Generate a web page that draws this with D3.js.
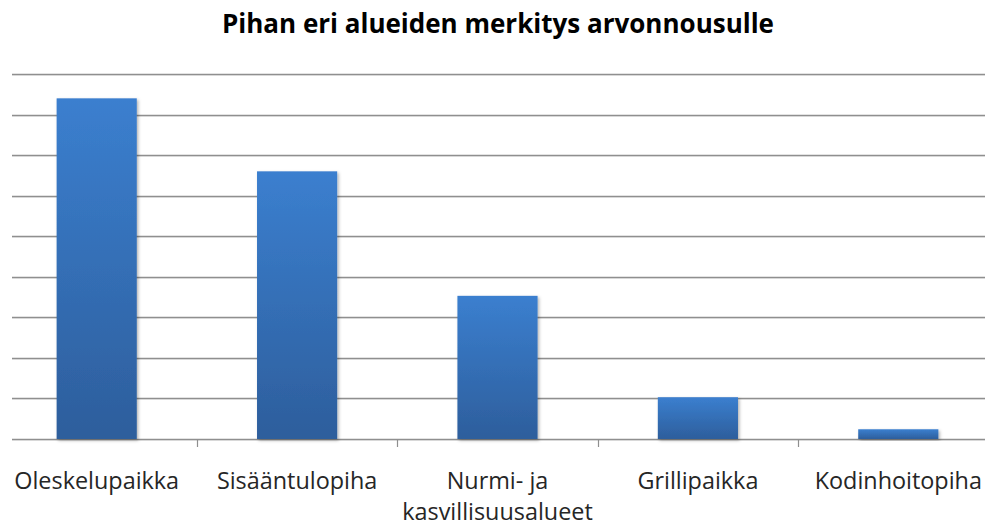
<!DOCTYPE html>
<html><head><meta charset="utf-8">
<script src="https://cdn.jsdelivr.net/npm/d3@7"></script>
<style>body{margin:0;background:#fff}svg{display:block}</style>
</head><body>
<svg id="c" width="992" height="524"></svg>
<script>
const title = "Pihan eri alueiden merkitys arvonnousulle";
const categories = ["Oleskelupaikka", "Sisääntulopiha", "Nurmi- ja kasvillisuusalueet", "Grillipaikka", "Kodinhoitopiha"];
const labelLines = [["Oleskelupaikka"], ["Sisääntulopiha"], ["Nurmi- ja", "kasvillisuusalueet"], ["Grillipaikka"], ["Kodinhoitopiha"]];
const values = [8.4, 6.6, 3.53, 1.03, 0.24];
const yTicks = [0,1,2,3,4,5,6,7,8,9];

const svg = d3.select("#c");
const plot = {left: 12, right: 985, top: 74, bottom: 439};

const x = d3.scaleBand().domain(categories).range([-3.5, 998.5]).paddingInner(0.6).paddingOuter(0.3);
const xb = d3.scaleBand().domain(categories).range([-3.5, 998.5]);
const y = d3.scaleLinear().domain([0, 9]).range([plot.bottom, plot.top]);

const defs = svg.append("defs");
const grad = defs.append("linearGradient").attr("id","bg").attr("x1",0).attr("y1",0).attr("x2",0).attr("y2",1);
grad.append("stop").attr("offset","0%").attr("stop-color","#3b7fcf");
grad.append("stop").attr("offset","100%").attr("stop-color","#2d5e9c");
const f = defs.append("filter").attr("id","sh").attr("x","-20%").attr("y","-20%").attr("width","140%").attr("height","140%");
f.append("feDropShadow").attr("dx",1.5).attr("dy",1.5).attr("stdDeviation",1.8).attr("flood-color","#000").attr("flood-opacity",0.3);

// gridlines
svg.append("g").selectAll("line").data(yTicks).join("line")
  .attr("x1", plot.left).attr("x2", plot.right)
  .attr("y1", d => Math.round(y(d)) + 0.5).attr("y2", d => Math.round(y(d)) + 0.5)
  .attr("stroke", "#8f8f8f").attr("stroke-width", 1.5);
svg.append("g").selectAll("line").data(yTicks).join("line")
  .attr("x1", plot.left).attr("x2", plot.right)
  .attr("y1", d => Math.round(y(d)) + 1.5).attr("y2", d => Math.round(y(d)) + 1.5)
  .attr("stroke", "#d8d8d8").attr("stroke-width", 1);

// ticks at category boundaries
svg.append("g").selectAll("line").data(categories.slice(1)).join("line")
  .attr("x1", d => Math.round(xb(d)) + 0.5).attr("x2", d => Math.round(xb(d)) + 0.5)
  .attr("y1", plot.bottom).attr("y2", plot.bottom + 8)
  .attr("stroke", "#8f8f8f").attr("stroke-width", 1.2);

// bars
svg.append("g").selectAll("rect").data(values).join("rect")
  .attr("x", (d,i) => x(categories[i]))
  .attr("width", x.bandwidth())
  .attr("y", d => y(d))
  .attr("height", d => y(0) - y(d))
  .attr("fill", "url(#bg)")
  .attr("filter", "url(#sh)");

// labels
const lg = svg.append("g").attr("font-family", "'Open Sans', sans-serif").attr("font-size", 23.4).attr("fill", "#262626").attr("text-anchor","middle");
labelLines.forEach((lines, i) => {
  const cx = xb(categories[i]) + xb.bandwidth()/2;
  lines.forEach((t, j) => {
    lg.append("text").attr("x", cx).attr("y", 489 + j*31).text(t);
  });
});

// title
svg.append("text").attr("x", 498).attr("y", 32.5).attr("text-anchor","middle")
  .attr("font-family", "'Open Sans', sans-serif").attr("font-weight","bold").attr("font-size", 26)
  .attr("fill", "#000").text(title);
</script>
</body></html>
